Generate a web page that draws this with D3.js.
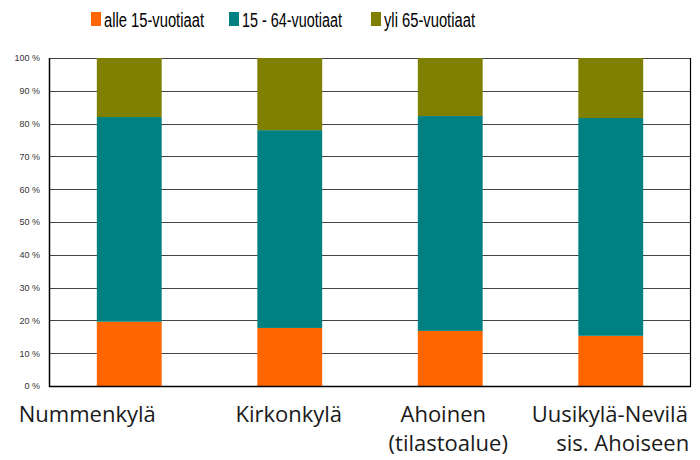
<!DOCTYPE html>
<html>
<head>
<meta charset="utf-8">
<script src="https://cdn.jsdelivr.net/npm/d3@7"></script>
<style>
  body { margin: 0; background: #fff; }
  svg { display: block; }
</style>
</head>
<body>
<div id="chart"></div>
<script>
// Chart data
var areas = ["Nummenkylä", "Kirkonkylä", "Ahoinen (tilastoalue)", "Uusikylä-Nevilä sis. Ahoiseen"];
var areaLines = [["Nummenkylä"], ["Kirkonkylä"], ["Ahoinen", "(tilastoalue)"], ["Uusikylä-Nevilä", "sis. Ahoiseen"]];
var seriesNames = ["alle 15-vuotiaat", "15 - 64-vuotiaat", "yli 65-vuotiaat"];
var under15 = [19.6, 17.7, 16.8, 15.3];
var age15to64 = [62.4, 60.3, 65.5, 66.4];
var over65 = [18.0, 22.0, 17.7, 18.3];
var yTicks = [0, 10, 20, 30, 40, 50, 60, 70, 80, 90, 100];

var colors = ["#ff6600", "#008080", "#808000"];
// horizontal nudge of each caption line relative to the bar centre
var labelShift = [[-42], [-1], [-7, -2], [-1, 12]];

var width = 700, height = 460;
var margin = { top: 58, right: 9, bottom: 74, left: 49 };
var plotW = width - margin.left - margin.right,
    plotH = height - margin.top - margin.bottom;

var svg = d3.select("#chart").append("svg")
    .attr("width", width)
    .attr("height", height);

var g = svg.append("g")
    .attr("transform", "translate(" + margin.left + "," + margin.top + ")");

var x = d3.scaleBand().domain(areas).range([0, plotW]).paddingInner(0.596).paddingOuter(0.298);
var y = d3.scaleLinear().domain([0, 100]).range([plotH, 0]);

// gridlines
g.selectAll(".grid")
    .data(yTicks)
    .enter().append("line")
    .attr("x1", 0).attr("x2", plotW)
    .attr("y1", function(d) { return Math.round(y(d)) + 0.5; })
    .attr("y2", function(d) { return Math.round(y(d)) + 0.5; })
    .attr("stroke", "#444")
    .attr("stroke-width", 1);

// stack the series
var rows = areas.map(function(a, i) {
    return { area: a, s0: under15[i], s1: age15to64[i], s2: over65[i] };
});
var stack = d3.stack().keys(["s0", "s1", "s2"]);
var layers = stack(rows);

g.selectAll(".layer")
    .data(layers)
    .enter().append("g")
    .attr("fill", function(d, i) { return colors[i]; })
    .selectAll("rect")
    .data(function(d) { return d; })
    .enter().append("rect")
    .attr("x", function(d) { return x(d.data.area); })
    .attr("width", x.bandwidth())
    .attr("y", function(d) { return y(d[1]); })
    .attr("height", function(d) { return y(d[0]) - y(d[1]); });

// frame: left, bottom and right lines
g.append("line").attr("x1", 0.5).attr("x2", 0.5).attr("y1", 0).attr("y2", plotH + 1)
    .attr("stroke", "#000").attr("stroke-width", 1.5);
g.append("line").attr("x1", 0).attr("x2", plotW).attr("y1", plotH + 0.5).attr("y2", plotH + 0.5)
    .attr("stroke", "#000").attr("stroke-width", 1.5);
g.append("line").attr("x1", plotW - 0.5).attr("x2", plotW - 0.5).attr("y1", 0).attr("y2", plotH)
    .attr("stroke", "#000").attr("stroke-width", 1.2);

// y axis labels
var yAxis = d3.axisLeft(y).tickValues(yTicks).tickSize(0).tickPadding(9)
    .tickFormat(function(d) { return d + " %"; });
var ya = g.append("g").call(yAxis);
ya.select(".domain").remove();
ya.selectAll("text")
    .attr("font-family", "Arial, 'Liberation Sans', sans-serif")
    .attr("font-size", 9)
    .attr("fill", "#333");

// category labels
var cat = g.selectAll(".cat")
    .data(areas)
    .enter().append("text")
    .attr("text-anchor", "middle")
    .attr("font-family", "'Open Sans', Lato, sans-serif")
    .attr("font-size", 22)
    .attr("fill", "#1a1a1a")
    .attr("transform", function(d) {
        return "translate(" + (x(d) + x.bandwidth() / 2) + "," + (plotH + 36) + ")";
    });
cat.selectAll("tspan")
    .data(function(d, i) {
        return areaLines[i].map(function(t, j) { return { text: t, dx: labelShift[i][j] }; });
    })
    .enter().append("tspan")
    .attr("x", function(d) { return d.dx; })
    .attr("dy", function(d, i) { return i === 0 ? 0 : 29; })
    .text(function(d) { return d.text; });

// legend
var legendX = [91, 229, 371];
var legendW = [100, 100, 91];
var legend = svg.selectAll(".legend")
    .data(seriesNames)
    .enter().append("g")
    .attr("transform", function(d, i) { return "translate(" + legendX[i] + ",12)"; });
legend.append("rect")
    .attr("width", 10).attr("height", 14)
    .attr("fill", function(d, i) { return colors[i]; });
legend.append("text")
    .attr("x", 13)
    .attr("y", 15)
    .attr("font-family", "Arial, 'Liberation Sans', sans-serif")
    .attr("font-size", 20)
    .attr("fill", "#000")
    .attr("textLength", function(d, i) { return legendW[i]; })
    .attr("lengthAdjust", "spacingAndGlyphs")
    .text(function(d) { return d; });
</script>
</body>
</html>
